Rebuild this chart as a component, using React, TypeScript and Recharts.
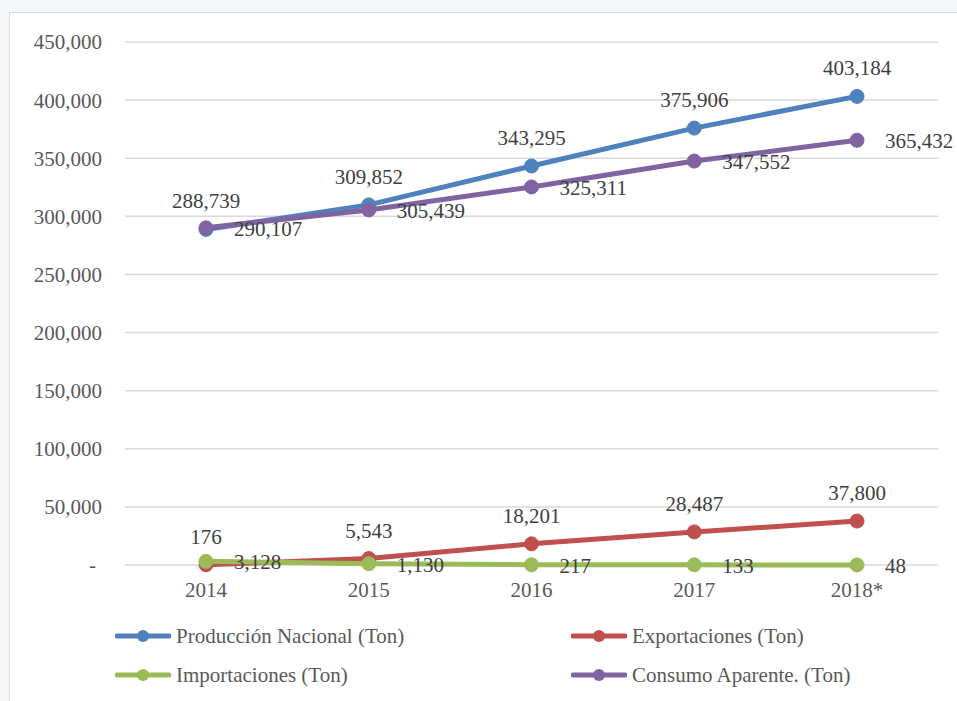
import { LineChart, Line, XAxis, YAxis, CartesianGrid, LabelList } from 'recharts';

const years = ['2014', '2015', '2016', '2017', '2018*'];
const produccion = [288739, 309852, 343295, 375906, 403184];
const exportaciones = [176, 5543, 18201, 28487, 37800];
const importaciones = [3128, 1130, 217, 133, 48];
const consumo = [290107, 305439, 325311, 347552, 365432];
const yTicks = [0, 50000, 100000, 150000, 200000, 250000, 300000, 350000, 400000, 450000];

const series = [
  { key: 'produccion', name: 'Producción Nacional (Ton)', color: '#4F81BD', label: 'top' },
  { key: 'exportaciones', name: 'Exportaciones (Ton)', color: '#C0504D', label: 'top' },
  { key: 'importaciones', name: 'Importaciones (Ton)', color: '#9BBB59', label: 'right' },
  { key: 'consumo', name: 'Consumo Aparente. (Ton)', color: '#8064A2', label: 'right' },
];

const data = years.map((year, i) => ({
  year,
  produccion: produccion[i],
  exportaciones: exportaciones[i],
  importaciones: importaciones[i],
  consumo: consumo[i],
}));

const FONT = '"Liberation Serif", "Times New Roman", serif';
const fmt = new Intl.NumberFormat('en-US');

function YTick({ x, y, payload }: any) {
  const zero = payload.value === 0;
  return (
    <text x={zero ? x - 6 : x} y={y} dy="0.355em" textAnchor="end" fontSize={21} fontFamily={FONT} fill="#595959">
      {zero ? '-' : fmt.format(payload.value)}
    </text>
  );
}

function labelAbove(props: any) {
  const { x, y, value } = props;
  return (
    <text x={x} y={y - 21} textAnchor="middle" fontSize={21} fontFamily={FONT} fill="#404040">
      {fmt.format(value)}
    </text>
  );
}

function labelRight(props: any) {
  const { x, y, value } = props;
  return (
    <text x={x + 28} y={y + 8} textAnchor="start" fontSize={21} fontFamily={FONT} fill="#404040">
      {fmt.format(value)}
    </text>
  );
}

function LegendItem({ name, color }: { name: string; color: string }) {
  return (
    <div style={{ display: 'flex', alignItems: 'center', height: 24 }}>
      <svg width={56} height={16} style={{ marginRight: 5 }}>
        <line x1={2} y1={8} x2={54} y2={8} stroke={color} strokeWidth={5} strokeLinecap="round" />
        <circle cx={28} cy={8} r={6} fill={color} />
      </svg>
      <span style={{ fontFamily: FONT, fontSize: 21, color: '#595959', whiteSpace: 'nowrap' }}>{name}</span>
    </div>
  );
}

export default function App() {
  return (
    <div style={{ position: 'absolute', left: 0, top: 0, width: 957, height: 701, background: '#f6f7f8', overflow: 'hidden' }}>
      <div
        style={{
          position: 'absolute',
          left: 9,
          top: 12,
          width: 960,
          height: 700,
          background: '#ffffff',
          border: '1.5px solid #d9d9d9',
        }}
      />
      <div style={{ position: 'absolute', left: 0, top: 0 }}>
        <LineChart width={957} height={701} data={data} margin={{ top: 42, right: 19, bottom: 106, left: 0 }}>
          <CartesianGrid vertical={false} stroke="#d9d9d9" strokeWidth={1.5} />
          <XAxis
            dataKey="year"
            axisLine={false}
            tickLine={false}
            tickMargin={11}
            height={30}
            padding={{ left: 81, right: 81 }}
            tick={{ fontSize: 21, fontFamily: FONT, fill: '#595959' }}
          />
          <YAxis
            domain={[0, 450000]}
            ticks={yTicks}
            width={125}
            axisLine={false}
            tickLine={false}
            tickMargin={17}
            tick={<YTick />}
          />
          {series.map((s) => (
            <Line
              key={s.key}
              dataKey={s.key}
              name={s.name}
              stroke={s.color}
              strokeWidth={5}
              dot={{ r: 7, fill: s.color, stroke: s.color, strokeWidth: 1 }}
              activeDot={false}
              isAnimationActive={false}
            >
              <LabelList dataKey={s.key} content={s.label === 'top' ? labelAbove : labelRight} />
            </Line>
          ))}
        </LineChart>
      </div>
      {/* legend: two columns, two rows */}
      <div style={{ position: 'absolute', left: 115, top: 624 }}>
        <LegendItem name={series[0].name} color={series[0].color} />
      </div>
      <div style={{ position: 'absolute', left: 571, top: 624 }}>
        <LegendItem name={series[1].name} color={series[1].color} />
      </div>
      <div style={{ position: 'absolute', left: 115, top: 663 }}>
        <LegendItem name={series[2].name} color={series[2].color} />
      </div>
      <div style={{ position: 'absolute', left: 571, top: 663 }}>
        <LegendItem name={series[3].name} color={series[3].color} />
      </div>
    </div>
  );
}
